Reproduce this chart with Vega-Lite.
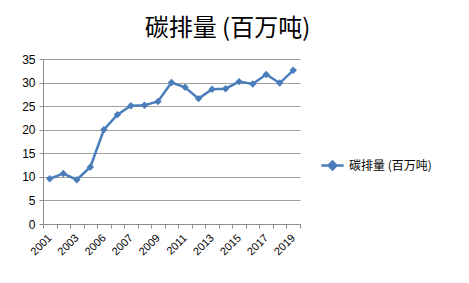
{
  "$schema": "https://vega.github.io/schema/vega-lite/v6.json",
  "width": 257,
  "height": 165,
  "autosize": {"type": "none"},
  "padding": {"left": 43, "top": 59, "right": 169, "bottom": 59},
  "background": "white",
  "title": {
    "text": "碳排量 (百万吨)",
    "font": "Noto Sans CJK SC",
    "fontSize": 24,
    "fontWeight": "normal",
    "color": "#000000",
    "anchor": "middle",
    "dx": 56,
    "offset": 12
  },
  "data": {
    "values": [
      {"year": "2001", "series": "碳排量 (百万吨)", "value": 9.6},
      {"year": "2002", "series": "碳排量 (百万吨)", "value": 10.7},
      {"year": "2003", "series": "碳排量 (百万吨)", "value": 9.4},
      {"year": "2005", "series": "碳排量 (百万吨)", "value": 12.1},
      {"year": "2006", "series": "碳排量 (百万吨)", "value": 20.0},
      {"year": "2006 ", "series": "碳排量 (百万吨)", "value": 23.2},
      {"year": "2007", "series": "碳排量 (百万吨)", "value": 25.1},
      {"year": "2008", "series": "碳排量 (百万吨)", "value": 25.2},
      {"year": "2009", "series": "碳排量 (百万吨)", "value": 26.0},
      {"year": "2010", "series": "碳排量 (百万吨)", "value": 30.0},
      {"year": "2011", "series": "碳排量 (百万吨)", "value": 29.0},
      {"year": "2012", "series": "碳排量 (百万吨)", "value": 26.6},
      {"year": "2013", "series": "碳排量 (百万吨)", "value": 28.6},
      {"year": "2014", "series": "碳排量 (百万吨)", "value": 28.7},
      {"year": "2015", "series": "碳排量 (百万吨)", "value": 30.2},
      {"year": "2016", "series": "碳排量 (百万吨)", "value": 29.7},
      {"year": "2017", "series": "碳排量 (百万吨)", "value": 31.7},
      {"year": "2018", "series": "碳排量 (百万吨)", "value": 29.9},
      {"year": "2019", "series": "碳排量 (百万吨)", "value": 32.6}
    ]
  },
  "mark": {
    "type": "line",
    "strokeWidth": 2.5,
    "point": {"shape": "diamond", "size": 55, "filled": true}
  },
  "encoding": {
    "x": {
      "field": "year",
      "type": "ordinal",
      "sort": null,
      "scale": {"type": "band", "paddingInner": 0, "paddingOuter": 0},
      "axis": {
        "title": null,
        "tickBand": "extent",
        "labelAngle": -45,
        "labelAlign": "right",
        "labelBaseline": "middle",
        "labelExpr": "round(datum.index * 18) % 2 == 0 ? trim(datum.label) : ''",
        "labelFont": "Liberation Sans",
        "labelFontSize": 11,
        "labelColor": "#000000",
        "labelPadding": 8,
        "tickSize": 4,
        "tickColor": "#8c8c8c",
        "domainColor": "#8c8c8c",
        "grid": false
      }
    },
    "y": {
      "field": "value",
      "type": "quantitative",
      "scale": {"domain": [0, 35]},
      "axis": {
        "title": null,
        "values": [0, 5, 10, 15, 20, 25, 30, 35],
        "labelFont": "Liberation Sans",
        "labelFontSize": 12,
        "labelColor": "#000000",
        "labelPadding": 4,
        "tickSize": 4,
        "tickColor": "#8c8c8c",
        "domainColor": "#8c8c8c",
        "gridColor": "#a0a0a0",
        "gridOpacity": 1
      }
    },
    "color": {
      "field": "series",
      "type": "nominal",
      "scale": {"range": ["#4a7ebb"]},
      "legend": {
        "title": null,
        "orient": "none",
        "legendX": 277,
        "legendY": 94,
        "symbolType": "M-1,0L1,0M-0.35,0L0,-0.35L0.35,0L0,0.35Z",
        "symbolSize": 500,
        "symbolStrokeWidth": 2.5,
        "symbolFillColor": "#4a7ebb",
        "labelFont": "Noto Sans CJK SC",
        "labelFontSize": 12,
        "labelColor": "#000000",
        "labelOffset": 4
      }
    }
  },
  "config": {
    "view": {"stroke": null},
    "axis": {"domainWidth": 1, "tickWidth": 1, "gridWidth": 1}
  }
}
